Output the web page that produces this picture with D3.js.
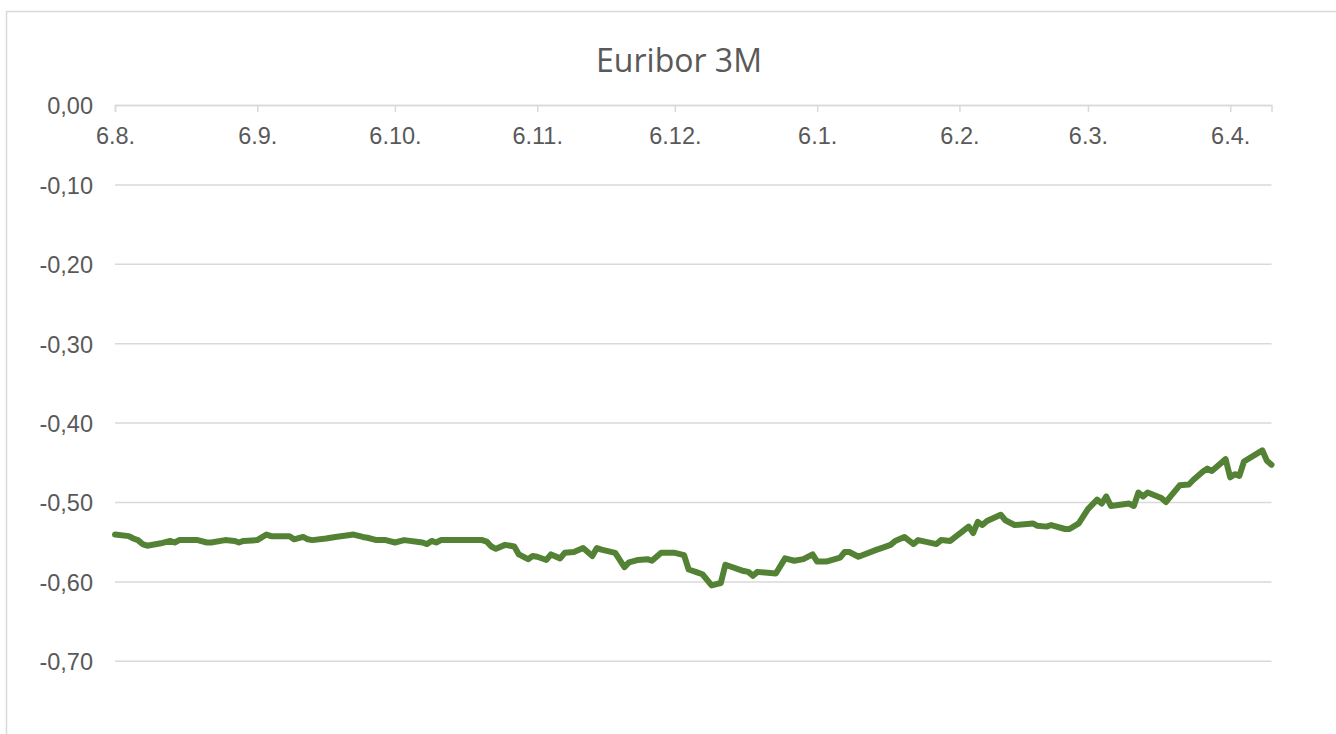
<!DOCTYPE html>
<html>
<head>
<meta charset="utf-8">
<script src="https://cdn.jsdelivr.net/npm/d3@7"></script>
<style>
  html, body { margin: 0; padding: 0; background: #fff; }
  svg { display: block; }
</style>
</head>
<body>
<svg id="chart" width="1336" height="734"></svg>
<script>
const title = "Euribor 3M";

const dates = [
  "2021-08-06","2021-08-09","2021-08-10","2021-08-11","2021-08-12","2021-08-13","2021-08-16","2021-08-18","2021-08-19","2021-08-20",
  "2021-08-24","2021-08-26","2021-08-27","2021-08-30","2021-09-01","2021-09-02","2021-09-03","2021-09-06","2021-09-08","2021-09-09",
  "2021-09-13","2021-09-14","2021-09-16","2021-09-17","2021-09-18","2021-09-21","2021-09-23","2021-09-27","2021-09-29","2021-09-30",
  "2021-10-02","2021-10-04","2021-10-06","2021-10-08","2021-10-12","2021-10-13","2021-10-14","2021-10-15","2021-10-16","2021-10-25",
  "2021-10-26","2021-10-27","2021-10-28","2021-10-30","2021-11-01","2021-11-02","2021-11-04","2021-11-05","2021-11-06","2021-11-08",
  "2021-11-09","2021-11-11","2021-11-12","2021-11-14","2021-11-16","2021-11-18","2021-11-19","2021-11-20","2021-11-23","2021-11-25",
  "2021-11-26","2021-11-28","2021-11-30","2021-12-01","2021-12-03","2021-12-06","2021-12-08","2021-12-09","2021-12-11","2021-12-12",
  "2021-12-14","2021-12-16","2021-12-17","2021-12-21","2021-12-22","2021-12-23","2021-12-24","2021-12-28","2021-12-30","2022-01-01",
  "2022-01-03","2022-01-05","2022-01-06","2022-01-08","2022-01-11","2022-01-12","2022-01-13","2022-01-15","2022-01-19","2022-01-20",
  "2022-01-22","2022-01-23","2022-01-25","2022-01-27","2022-01-28","2022-02-01","2022-02-02","2022-02-04","2022-02-08","2022-02-09",
  "2022-02-10","2022-02-11","2022-02-12","2022-02-15","2022-02-16","2022-02-18","2022-02-22","2022-02-23","2022-02-25","2022-02-26",
  "2022-03-01","2022-03-02","2022-03-04","2022-03-06","2022-03-08","2022-03-09","2022-03-10","2022-03-11","2022-03-15","2022-03-16",
  "2022-03-17","2022-03-18","2022-03-19","2022-03-22","2022-03-23","2022-03-24","2022-03-26","2022-03-28","2022-03-29","2022-03-31",
  "2022-04-01","2022-04-02","2022-04-05","2022-04-06","2022-04-07","2022-04-08","2022-04-09","2022-04-13","2022-04-14","2022-04-15"
];

const rates = [
  -0.541,-0.543,-0.546,-0.548,-0.553,-0.555,-0.552,-0.549,-0.551,-0.548,
  -0.548,-0.551,-0.551,-0.548,-0.549,-0.551,-0.549,-0.548,-0.541,-0.543,
  -0.543,-0.547,-0.544,-0.547,-0.548,-0.546,-0.544,-0.541,-0.544,-0.545,
  -0.548,-0.548,-0.551,-0.548,-0.551,-0.553,-0.549,-0.551,-0.548,-0.548,
  -0.550,-0.556,-0.559,-0.554,-0.556,-0.566,-0.572,-0.568,-0.569,-0.573,
  -0.566,-0.571,-0.564,-0.563,-0.558,-0.568,-0.558,-0.560,-0.564,-0.582,
  -0.576,-0.573,-0.572,-0.574,-0.564,-0.564,-0.567,-0.585,-0.589,-0.591,
  -0.605,-0.602,-0.579,-0.587,-0.588,-0.593,-0.588,-0.590,-0.571,-0.574,
  -0.572,-0.566,-0.575,-0.575,-0.570,-0.563,-0.563,-0.569,-0.560,-0.558,
  -0.554,-0.549,-0.544,-0.553,-0.548,-0.553,-0.548,-0.549,-0.531,-0.539,
  -0.525,-0.529,-0.524,-0.516,-0.523,-0.529,-0.527,-0.530,-0.531,-0.529,
  -0.534,-0.534,-0.527,-0.509,-0.497,-0.502,-0.493,-0.505,-0.502,-0.505,
  -0.488,-0.493,-0.488,-0.495,-0.500,-0.493,-0.479,-0.478,-0.472,-0.462,
  -0.458,-0.461,-0.446,-0.469,-0.465,-0.467,-0.449,-0.435,-0.448,-0.453
];

const xTickDates = ["2021-08-06","2021-09-06","2021-10-06","2021-11-06","2021-12-06","2022-01-06","2022-02-06","2022-03-06","2022-04-06"];
const yTicks = [0, -0.1, -0.2, -0.3, -0.4, -0.5, -0.6, -0.7];
const xDomain = ["2021-08-06", "2022-04-15"];
const yDomain = [-0.8, 0];

const parse = d3.timeParse("%Y-%m-%d");
const data = dates.map((d, i) => ({ date: parse(d), value: rates[i] }));

const svg = d3.select("#chart");
const plotLeft = 115, plotRight = 1271.5, plotTop = 105, plotBottom = 740.2;

// chart area border
svg.append("rect")
  .attr("x", 6.5).attr("y", 11.5)
  .attr("width", 1400).attr("height", 800)
  .attr("fill", "#fff").attr("stroke", "#d9d9d9").attr("stroke-width", 1.5);

const x = d3.scaleTime().domain(xDomain.map(parse)).range([plotLeft, plotRight]);
const y = d3.scaleLinear().domain(yDomain).range([plotBottom, plotTop]);

const fmtY = v => d3.format(".2f")(v).replace(".", ",").replace("−", "-");
const labelFont = "'Liberation Sans', Arial, sans-serif";

// y gridlines + labels
const yAxis = d3.axisLeft(y).tickValues(yTicks).tickSize(-(plotRight - plotLeft)).tickPadding(22).tickFormat(fmtY);
const gy = svg.append("g").attr("transform", `translate(${plotLeft},0)`).call(yAxis);
gy.select(".domain").remove();
gy.selectAll(".tick line").attr("stroke", "#d9d9d9").attr("stroke-width", 1.5);
gy.selectAll(".tick text")
  .attr("fill", "#595959")
  .attr("dy", "0.38em")
  .style("font-family", labelFont)
  .style("font-size", "23.5px");

// x axis along zero line
const xAxis = d3.axisBottom(x)
  .tickValues(xTickDates.map(parse))
  .tickSize(7).tickPadding(15)
  .tickFormat(d => `${d.getDate()}.${d.getMonth() + 1}.`);
const gx = svg.append("g").attr("transform", `translate(0,${y(0)})`).call(xAxis);
gx.select(".domain").attr("stroke", "#d9d9d9").attr("stroke-width", 1.5);
gx.selectAll(".tick line").attr("stroke", "#d9d9d9").attr("stroke-width", 1.5);
gx.selectAll(".tick text")
  .attr("fill", "#595959")
  .style("font-family", labelFont)
  .style("font-size", "23.5px");

// line
const line = d3.line().x(d => x(d.date)).y(d => y(d.value));
svg.append("path")
  .datum(data)
  .attr("fill", "none")
  .attr("stroke", "#548235")
  .attr("stroke-width", 6)
  .attr("stroke-linejoin", "round")
  .attr("stroke-linecap", "round")
  .attr("d", line);

// title
svg.append("text")
  .attr("x", 679).attr("y", 72)
  .attr("text-anchor", "middle")
  .attr("fill", "#595959")
  .style("font-family", "'Open Sans', 'Noto Sans', sans-serif")
  .style("font-size", "32px")
  .text(title);
</script>
</body>
</html>
